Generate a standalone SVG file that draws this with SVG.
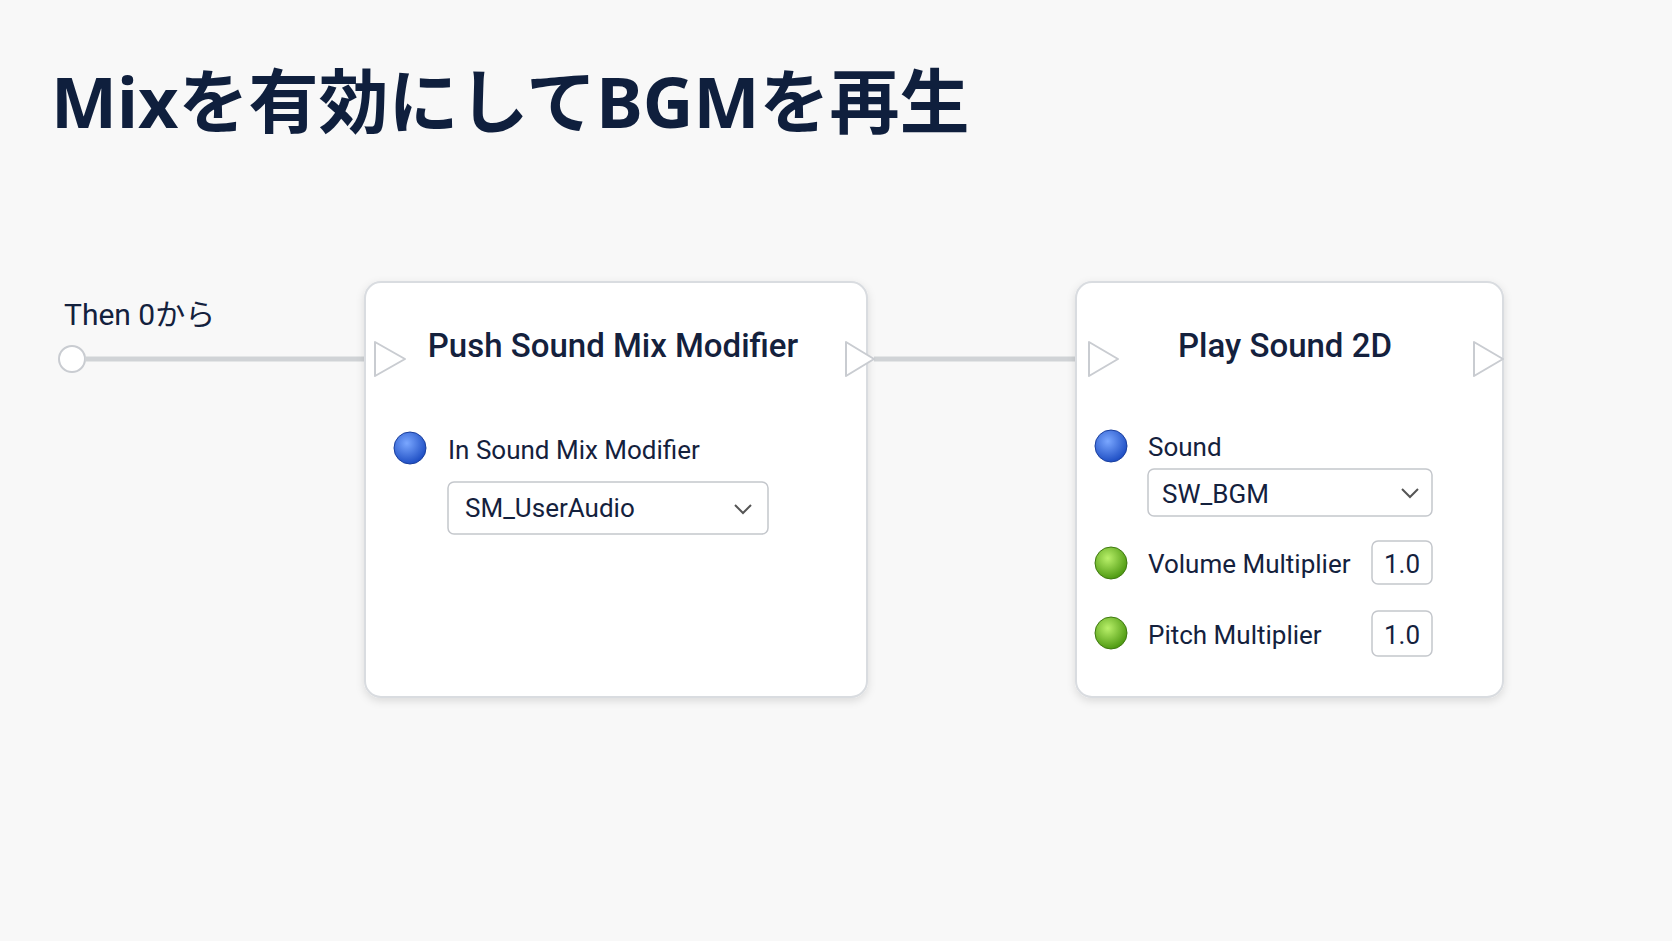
<svg xmlns="http://www.w3.org/2000/svg" width="1672" height="941" viewBox="0 0 1672 941">
<defs>
<style>
.t{font-family:Roboto,"Noto Sans","Noto Sans CJK JP",sans-serif;fill:#14213d}
.node{fill:#fff;stroke:#d9dce0;stroke-width:2}
.pin{fill:#fff;stroke:#c9ccd1;stroke-width:2;stroke-linejoin:round}
.box{fill:#fff;stroke:#c4c7cc;stroke-width:1.5}
.wire{stroke:#d0d3d6;stroke-width:5;fill:none}
</style>
<filter id="sh" x="-10%" y="-10%" width="120%" height="120%"><feDropShadow dx="0" dy="3" stdDeviation="4" flood-color="#000" flood-opacity="0.12"/></filter>
<radialGradient id="blue" cx="40%" cy="35%" r="65%"><stop offset="0" stop-color="#7aa7ff"/><stop offset="1" stop-color="#1f4fc4"/></radialGradient>
<radialGradient id="green" cx="40%" cy="35%" r="65%"><stop offset="0" stop-color="#b9f06a"/><stop offset="1" stop-color="#4f9a12"/></radialGradient>
</defs>
<rect width="1672" height="941" fill="#f8f8f8"/>
<text x="51" y="128" font-size="70" font-weight="bold" font-family="'Noto Sans','Noto Sans CJK JP',sans-serif" fill="#0f1f3d">Mixを有効にしてBGMを再生</text>
<g id="start">
<text class="t" x="64" y="325" font-size="30">Then 0から</text>
<circle cx="72" cy="359" r="13" class="pin"/>
</g>
<g id="connectors">
<line class="wire" x1="85" y1="359" x2="373" y2="359"/>
<line class="wire" x1="874" y1="359" x2="1088" y2="359"/>
</g>
<g id="push">
<rect x="365" y="282" width="502" height="415" rx="16" class="node" filter="url(#sh)"/>
<path d="M375 342 L405 359 L375 376 Z" class="pin"/>
<path d="M846 342 L874 359 L846 376 Z" class="pin"/>
<text class="t" x="613" y="357" font-size="33" font-weight="500" text-anchor="middle">Push Sound Mix Modifier</text>
<circle cx="410" cy="448" r="16" fill="url(#blue)" stroke="#1a3f9e"/>
<text class="t" x="448" y="459" font-size="26">In Sound Mix Modifier</text>
<rect x="448" y="482" width="320" height="52" rx="6" class="box"/>
<text class="t" x="465" y="517" font-size="26">SM_UserAudio</text>
<path d="M735 505 L743 513 L751 505" fill="none" stroke="#555" stroke-width="2"/>
</g>
<g id="play">
<rect x="1076" y="282" width="427" height="415" rx="16" class="node" filter="url(#sh)"/>
<path d="M1089 342 L1118 359 L1089 376 Z" class="pin"/>
<path d="M1474 342 L1503 359 L1474 376 Z" class="pin"/>
<text class="t" x="1285" y="357" font-size="33" font-weight="500" text-anchor="middle">Play Sound 2D</text>
<circle cx="1111" cy="446" r="16" fill="url(#blue)" stroke="#1a3f9e"/>
<text class="t" x="1148" y="456" font-size="26">Sound</text>
<rect x="1148" y="469" width="284" height="47" rx="6" class="box"/>
<text class="t" x="1162" y="503" font-size="26">SW_BGM</text>
<path d="M1402 489 L1410 497 L1418 489" fill="none" stroke="#555" stroke-width="2"/>
<circle cx="1111" cy="563" r="16" fill="url(#green)" stroke="#3f7a10"/>
<text class="t" x="1148" y="573" font-size="26">Volume Multiplier</text>
<rect x="1372" y="541" width="60" height="43" rx="6" class="box"/>
<text class="t" x="1402" y="573" font-size="26" text-anchor="middle">1.0</text>
<circle cx="1111" cy="633" r="16" fill="url(#green)" stroke="#3f7a10"/>
<text class="t" x="1148" y="644" font-size="26">Pitch Multiplier</text>
<rect x="1372" y="611" width="60" height="45" rx="6" class="box"/>
<text class="t" x="1402" y="644" font-size="26" text-anchor="middle">1.0</text>
</g>
</svg>
